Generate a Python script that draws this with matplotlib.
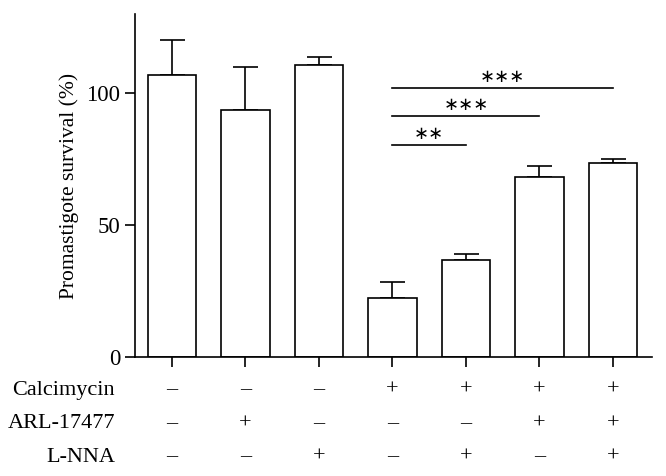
import matplotlib
matplotlib.use("Agg")
import matplotlib.pyplot as plt
import numpy as np

plt.rcParams["font.family"] = ["Liberation Serif", "DejaVu Serif"]

# bar heights and upper error (SD)
survival = [106.8, 93.8, 110.7, 22.5, 36.7, 68.4, 73.6]
err_upper = [13.5, 16.0, 3.0, 5.8, 2.2, 3.9, 1.4]

# treatment table under the x-axis
row_names = ["Calcimycin", "ARL-17477", "L-NNA"]
calcimycin = ["–", "–", "–", "+", "+", "+", "+"]
arl = ["–", "+", "–", "–", "–", "+", "+"]
lnna = ["–", "–", "+", "–", "+", "–", "+"]

# significance brackets: (from bar, to bar, line height, label)
sig_from = [3, 3, 3]
sig_to = [4, 5, 6]
sig_y = [80.3, 91.2, 102.0]
sig_label = ["∗∗", "∗∗∗", "∗∗∗"]

fig = plt.figure(figsize=(6.66, 4.76), dpi=100)
ax = fig.add_axes([135 / 666, 119 / 476, 517 / 666, 343 / 476])

x = np.arange(len(survival))
lw = 1.2
ax.bar(x, survival, width=0.66, color="white", edgecolor="black", linewidth=lw, zorder=2)
ax.errorbar(x, survival, yerr=[np.zeros(len(x)), err_upper], fmt="none",
            ecolor="black", elinewidth=lw, capsize=9, capthick=lw, zorder=1)

for a, b, y, lab in zip(sig_from, sig_to, sig_y, sig_label):
    ax.plot([a, b], [y, y], color="black", lw=lw)
    ax.text((a + b) / 2, y + 4.3, lab, ha="center", va="center", fontsize=13,
            family=["DejaVu Sans"])

ax.set_xlim(-0.5, 6.53)
ax.set_ylim(0, 130)
ax.set_yticks([0, 50, 100])
ax.set_xticks(x)
ax.set_xticklabels([])
ax.tick_params(axis="both", direction="out", width=lw, labelsize=16.5)
ax.tick_params(axis="y", length=7.5, pad=3)
ax.tick_params(axis="x", length=7)
for s in ["top", "right"]:
    ax.spines[s].set_visible(False)
for s in ["left", "bottom"]:
    ax.spines[s].set_linewidth(lw)

ax.set_ylabel("Promastigote survival (%)", fontsize=15.5, labelpad=5)

trans = ax.get_xaxis_transform()
rows = [calcimycin, arl, lnna]
row_px = [390, 424, 457]
for name, vals, ypx in zip(row_names, rows, row_px):
    yy = (357 - ypx) / 343
    ax.text(-0.77, yy, name, transform=trans, ha="right", va="center",
            fontsize=16, clip_on=False)
    for xi, v in zip(x, vals):
        ax.text(xi, yy, v, transform=trans, ha="center", va="center",
                fontsize=16, clip_on=False)

fig.savefig("out.png", dpi=100)
